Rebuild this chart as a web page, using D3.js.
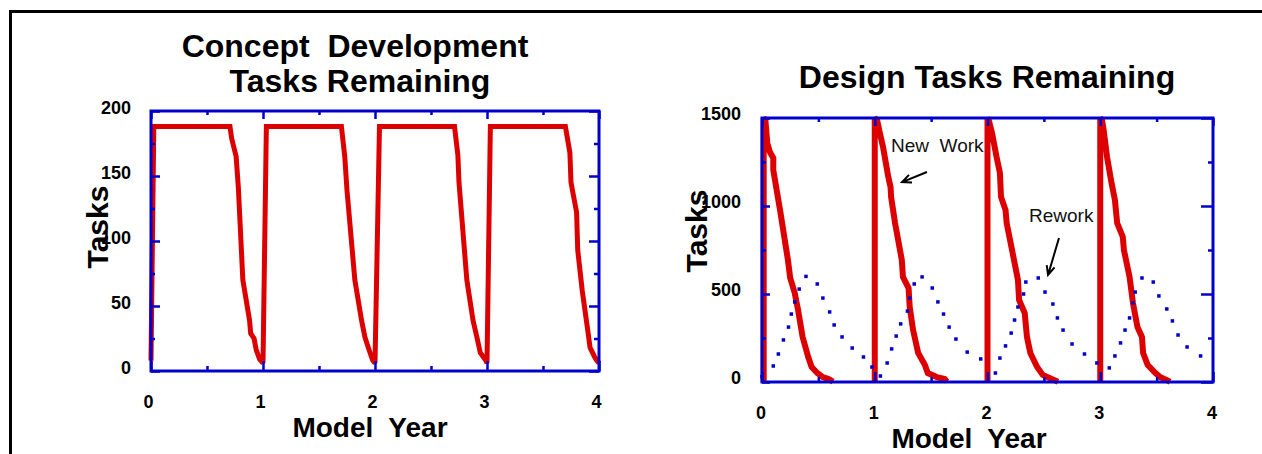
<!DOCTYPE html>
<html>
<head>
<meta charset="utf-8">
<script src="https://cdn.jsdelivr.net/npm/d3@7"></script>
<style>
  html, body { margin: 0; padding: 0; background: #fff; }
  svg { display: block; font-family: "Liberation Sans", Arial, Helvetica, sans-serif; }
</style>
</head>
<body>
<svg id="chart" width="1262" height="454"></svg>
<script>
// ---- data ----------------------------------------------------------
const years = [0, 1, 2, 3, 4];
const conceptTicks = [0, 50, 100, 150, 200];
const designTicks = [0, 500, 1000, 1500];

// Concept development tasks remaining (one continuous series)
const conceptTime = [
  0, 0.025, 0.705, 0.72, 0.76, 0.78, 0.82, 0.88, 0.89, 0.92, 0.94, 0.97, 0.99,
  1.0, 1.03, 1.70, 1.73, 1.75, 1.82, 1.88, 1.91, 1.94, 1.98,
  2.0, 2.04, 2.71, 2.74, 2.75, 2.82, 2.875, 2.91, 2.94, 2.99,
  3.0, 3.03, 3.70, 3.74, 3.75, 3.80, 3.81, 3.85, 3.90, 3.92, 3.96, 3.98, 4.0
];
const conceptTasks = [
  8, 188, 188, 179, 165, 141, 70, 39, 29, 25, 16, 9, 7,
  6, 188, 188, 165, 139, 70, 39, 26, 18, 8,
  6, 188, 188, 166, 145, 70, 39, 26, 14, 8,
  6, 188, 188, 168, 145, 122, 93, 62, 31, 18, 11, 8, 6
];

// Design new work remaining (null separates the yearly runs)
const newWorkTime = [
  0.015, 0.015, 0.03, 0.047, 0.07, 0.10, 0.10, 0.16, 0.23, 0.25, 0.29, 0.32, 0.36, 0.41, 0.44, 0.49, 0.54, 0.59, 0.63, 0.63,
  1.0, 1.0, 1.02, 1.045, 1.075, 1.12, 1.14, 1.145, 1.18, 1.24, 1.25, 1.30, 1.31, 1.34, 1.385, 1.445, 1.47, 1.55, 1.62, 1.64, 1.64,
  2.0, 2.0, 2.01, 2.04, 2.08, 2.11, 2.12, 2.16, 2.17, 2.23, 2.27, 2.28, 2.33, 2.35, 2.38, 2.44, 2.49, 2.55, 2.625, 2.625,
  3.0, 3.0, 3.015, 3.03, 3.06, 3.10, 3.13, 3.15, 3.20, 3.21, 3.26, 3.29, 3.33, 3.37, 3.38, 3.42, 3.49, 3.53, 3.62
];
const newWorkTasks = [
  0, 1500, 1490, 1358, 1307, 1273, 1205, 977, 693, 591, 506, 409, 256, 142, 85, 51, 28, 17, 2, null,
  0, 1500, 1490, 1415, 1330, 1165, 1108, 1051, 903, 693, 597, 534, 426, 295, 165, 97, 51, 28, 17, 2, null,
  0, 1500, 1490, 1415, 1280, 1188, 1051, 977, 903, 710, 580, 466, 392, 256, 165, 85, 40, 23, 2, null,
  0, 1500, 1490, 1432, 1280, 1131, 1034, 903, 824, 750, 597, 449, 312, 256, 165, 97, 51, 28, 2
];

// Design rework remaining (sampled points)
const reworkTime = [
  0.0, 0.10, 0.145, 0.19, 0.235, 0.26, 0.29, 0.33, 0.39, 0.49, 0.54, 0.60, 0.64, 0.71, 0.80, 0.90, 0.975,
  1.05, 1.11, 1.15, 1.19, 1.23, 1.29, 1.31, 1.35, 1.42, 1.51, 1.56, 1.61, 1.66, 1.72, 1.82, 1.94,
  2.07, 2.11, 2.16, 2.21, 2.24, 2.27, 2.32, 2.34, 2.45, 2.51, 2.58, 2.62, 2.67, 2.75, 2.86, 2.97,
  3.08, 3.13, 3.18, 3.22, 3.26, 3.29, 3.31, 3.37, 3.47, 3.52, 3.59, 3.64, 3.69, 3.77, 3.89
];
const reworkTasks = [
  30, 91, 159, 239, 312, 386, 455, 528, 600, 557, 477, 398, 324, 256, 193, 142, 85,
  34, 108, 188, 261, 330, 403, 477, 557, 597, 534, 455, 386, 312, 244, 170, 131,
  51, 136, 205, 278, 352, 426, 500, 568, 591, 511, 443, 364, 295, 216, 159, 108,
  80, 148, 222, 295, 364, 449, 511, 591, 568, 489, 415, 347, 267, 199, 148
];

// ---- styles --------------------------------------------------------
const BLUE = "#0000cc";
const RED = "#dd0000";

const svg = d3.select("#chart");

// outer frame (top and left edges)
svg.append("path")
  .attr("d", "M10.5,454 L10.5,11.5 L1262,11.5")
  .attr("fill", "none").attr("stroke", "#000").attr("stroke-width", 3);

const zip = (ts, vs) => ts.map((t, i) => ({ t, v: vs[i] }));
const mids = arr => d3.pairs(arr).map(([a, b]) => (a + b) / 2);

function panel(opt) {
  const x = d3.scaleLinear().domain([0, 4]).range([opt.left, opt.right]);
  const y = d3.scaleLinear().domain([0, opt.yMax]).range([opt.bottom, opt.top]);
  const g = svg.append("g");

  // data layer
  const dataG = g.append("g");

  // axes
  const axesG = g.append("g");
  const styleAxis = sel => {
    sel.select(".domain").remove();
    sel.selectAll(".tick line").attr("stroke", BLUE).attr("stroke-width", 2.5);
    sel.selectAll("text")
      .attr("fill", "#000").attr("font-size", 18).attr("font-weight", "bold")
      .attr("font-family", "Liberation Sans, Arial, Helvetica, sans-serif");
  };
  const fmt = d3.format("d");

  // bottom
  axesG.append("g").attr("transform", `translate(0,${opt.bottom})`)
    .call(d3.axisBottom(x).tickValues(years).tickSize(-10).tickPadding(24).tickFormat(fmt))
    .call(styleAxis)
    .call(s => s.selectAll("text").attr("dx", opt.xLabelShift));
  axesG.append("g").attr("transform", `translate(0,${opt.bottom})`)
    .call(d3.axisBottom(x).tickValues(mids(years)).tickSize(-5).tickFormat(""))
    .call(styleAxis);
  // top
  axesG.append("g").attr("transform", `translate(0,${opt.top})`)
    .call(d3.axisTop(x).tickValues(years).tickSize(-8).tickFormat(""))
    .call(styleAxis);
  axesG.append("g").attr("transform", `translate(0,${opt.top})`)
    .call(d3.axisTop(x).tickValues(mids(years)).tickSize(-4).tickFormat(""))
    .call(styleAxis);
  // left
  axesG.append("g").attr("transform", `translate(${opt.left},0)`)
    .call(d3.axisLeft(y).tickValues(opt.yTicks).tickSize(-opt.leftMajor).tickPadding(opt.yPad).tickFormat(fmt))
    .call(styleAxis)
    .call(s => s.selectAll("text").attr("y", opt.yLabelShift));
  axesG.append("g").attr("transform", `translate(${opt.left},0)`)
    .call(d3.axisLeft(y).tickValues(mids(opt.yTicks)).tickSize(-4).tickFormat(""))
    .call(styleAxis);
  // right
  axesG.append("g").attr("transform", `translate(${opt.right},0)`)
    .call(d3.axisRight(y).tickValues(opt.yTicks).tickSize(-opt.rightMajor).tickFormat(""))
    .call(styleAxis);
  axesG.append("g").attr("transform", `translate(${opt.right},0)`)
    .call(d3.axisRight(y).tickValues(mids(opt.yTicks)).tickSize(-5).tickFormat(""))
    .call(styleAxis);

  // plot box
  axesG.append("rect")
    .attr("x", opt.left).attr("y", opt.top)
    .attr("width", opt.right - opt.left).attr("height", opt.bottom - opt.top)
    .attr("fill", "none").attr("stroke", BLUE).attr("stroke-width", 3);

  // titles
  const titleG = g.append("g").attr("font-weight", "bold").attr("fill", "#000");
  opt.title.forEach(tl => {
    titleG.append("text").attr("x", tl.x).attr("y", tl.y)
      .attr("text-anchor", "middle").attr("font-size", 32)
      .style("white-space", "pre")
      .text(tl.text);
  });
  titleG.append("text")
    .attr("x", opt.xTitle.x).attr("y", opt.xTitle.y)
    .attr("text-anchor", "middle").attr("font-size", 28)
    .style("white-space", "pre")
    .text("Model  Year");
  titleG.append("text")
    .attr("transform", `translate(${opt.yTitle.x},${opt.yTitle.y}) rotate(-90)`)
    .attr("text-anchor", "middle").attr("font-size", 30)
    .text("Tasks");

  return { x, y, dataG, g };
}

// ---- left: concept development ---------------------------------------
const left = panel({
  left: 151, right: 599, top: 111, bottom: 371, yMax: 200,
  yTicks: conceptTicks, leftMajor: 9, rightMajor: 10,
  yPad: 20, yLabelShift: -3, xLabelShift: -3,
  title: [
    { text: "Concept  Development", x: 355, y: 57 },
    { text: "Tasks Remaining", x: 360, y: 92 }
  ],
  xTitle: { x: 370, y: 437 },
  yTitle: { x: 108, y: 227 }
});

left.dataG.append("path")
  .datum(zip(conceptTime, conceptTasks))
  .attr("d", d3.line().x(d => left.x(d.t)).y(d => left.y(d.v)))
  .attr("fill", "none").attr("stroke", RED).attr("stroke-width", 5)
  .attr("stroke-linejoin", "miter").attr("stroke-miterlimit", 2);

// ---- right: design -------------------------------------------------
const right = panel({
  left: 762, right: 1213, top: 118, bottom: 382, yMax: 1500,
  yTicks: designTicks, leftMajor: 8, rightMajor: 12,
  yPad: 21, yLabelShift: -4, xLabelShift: -1.5,
  title: [{ text: "Design Tasks Remaining", x: 987, y: 88 }],
  xTitle: { x: 969, y: 448 },
  yTitle: { x: 707, y: 231 }
});

right.dataG.append("path")
  .datum(zip(newWorkTime, newWorkTasks))
  .attr("d", d3.line().defined(d => d.v != null).x(d => right.x(d.t)).y(d => right.y(d.v)))
  .attr("fill", "none").attr("stroke", RED).attr("stroke-width", 6)
  .attr("stroke-linejoin", "miter").attr("stroke-miterlimit", 1.5);

right.dataG.selectAll("rect.rework")
  .data(zip(reworkTime, reworkTasks))
  .join("rect").attr("class", "rework")
  .attr("x", d => right.x(d.t) - 1.75).attr("y", d => right.y(d.v) - 1.75)
  .attr("width", 3.5).attr("height", 3.5)
  .attr("fill", BLUE);

// annotations
function arrow(g, x1, y1, x2, y2) {
  const a = Math.atan2(y2 - y1, x2 - x1);
  const L = 10, w = 0.42;
  g.append("path")
    .attr("d", `M${x1},${y1} L${x2},${y2}` +
      ` M${x2 - L * Math.cos(a - w)},${y2 - L * Math.sin(a - w)} L${x2},${y2}` +
      ` L${x2 - L * Math.cos(a + w)},${y2 - L * Math.sin(a + w)}`)
    .attr("fill", "none").attr("stroke", "#000").attr("stroke-width", 2);
}
const ann = right.g.append("g");
ann.append("text")
  .attr("x", right.x(1.144)).attr("y", right.y(1307))
  .attr("font-size", 19).attr("fill", "#111").style("white-space", "pre")
  .text("New  Work");
arrow(ann, right.x(1.463), right.y(1193), right.x(1.242), right.y(1136));
ann.append("text")
  .attr("x", right.x(2.368)).attr("y", right.y(909))
  .attr("font-size", 19).attr("fill", "#111")
  .text("Rework");
arrow(ann, right.x(2.634), right.y(818), right.x(2.537), right.y(608));
</script>
</body>
</html>
